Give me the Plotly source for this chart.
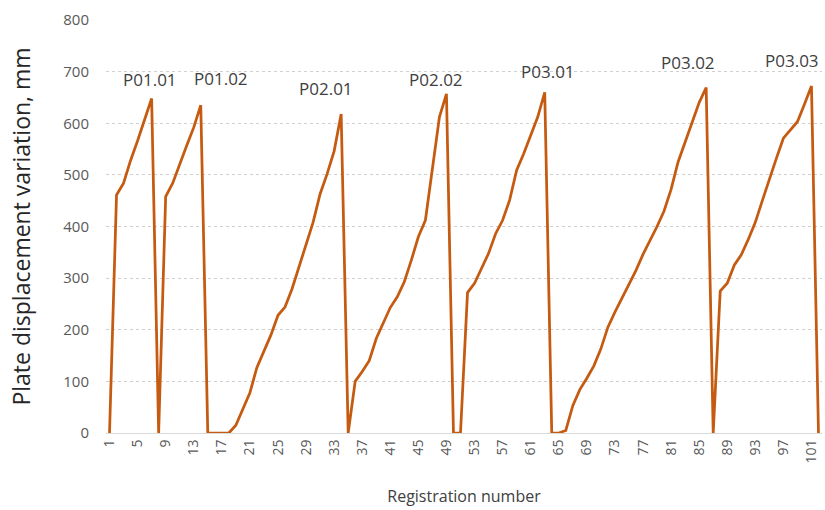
import plotly.graph_objects as go

registration = list(range(1, 103))
displacement = [
    0, 461, 484, 528, 566, 605, 648, 0, 458, 484,
    522, 557, 592, 635, 0, 0, 0, 0, 15, 45,
    78, 127, 160, 190, 228, 244, 279, 321, 363, 408,
    463, 502, 546, 618, 0, 100, 119, 140, 183, 212,
    243, 264, 293, 335, 380, 412, 509, 612, 657, 0,
    0, 272, 290, 319, 348, 386, 412, 451, 509, 541,
    577, 612, 660, 0, 0, 5, 53, 84, 106, 130,
    163, 205, 234, 260, 286, 315, 346, 372, 400, 430,
    472, 525, 564, 603, 640, 669, 0, 275, 290, 325,
    345, 375, 408, 450, 492, 532, 571, 588, 603, 637,
    672, 0,
]
peak_labels = ['P01.01', 'P01.02', 'P02.01', 'P02.02', 'P03.01', 'P03.02', 'P03.03']
peak_regs = [7, 14, 34, 49, 63, 86, 101]
tick_regs = list(range(1, 102, 4))

# label offsets in px relative to the peak point
label_shift = [(-2, 19), (20, 27), (-15, 25), (-10, 14), (3, 21), (-18, 25), (-19, 26)]

FONT = 'Open Sans'
GREY = '#595959'

fig = go.Figure()
fig.add_trace(
    go.Scatter(
        x=registration,
        y=displacement,
        mode='lines',
        line=dict(color='#C55A11', width=2.75),
        showlegend=False,
    )
)

for label, reg, (dx, dy) in zip(peak_labels, peak_regs, label_shift):
    fig.add_annotation(
        x=reg,
        y=displacement[reg - 1],
        text=label,
        showarrow=False,
        xshift=dx,
        yshift=dy,
        font=dict(family=FONT, size=17, color='#404040'),
    )

fig.update_layout(
    width=825,
    height=510,
    paper_bgcolor='white',
    plot_bgcolor='white',
    margin=dict(l=106, r=3, t=20, b=77),
    font=dict(family=FONT, color=GREY),
    xaxis=dict(
        range=[0.5, 102.5],
        tickvals=tick_regs,
        ticktext=[str(t) for t in tick_regs],
        tickangle=-90,
        tickfont=dict(size=14, color=GREY),
        showgrid=False,
        zeroline=False,
        showline=True,
        linecolor='#d9d9d9',
        ticks='',
        automargin=False,
        title=dict(text='Registration number', font=dict(size=16, color='#404040'), standoff=28),
    ),
    yaxis=dict(
        range=[0, 800],
        dtick=100,
        tickfont=dict(size=15, color=GREY),
        showgrid=True,
        gridcolor='#d0d0d0',
        griddash='dot',
        zeroline=False,
        ticks='',
        ticklabelstandoff=16,
        automargin=False,
        title=dict(text='Plate displacement variation, mm', font=dict(size=23, color='#262626'), standoff=26),
    ),
)

# the page's default body margin would shift the figure by 8px
fig.write_html(
    'out.html',
    config={'displayModeBar': False},
    post_script="document.body.style.margin='0px';",
)
